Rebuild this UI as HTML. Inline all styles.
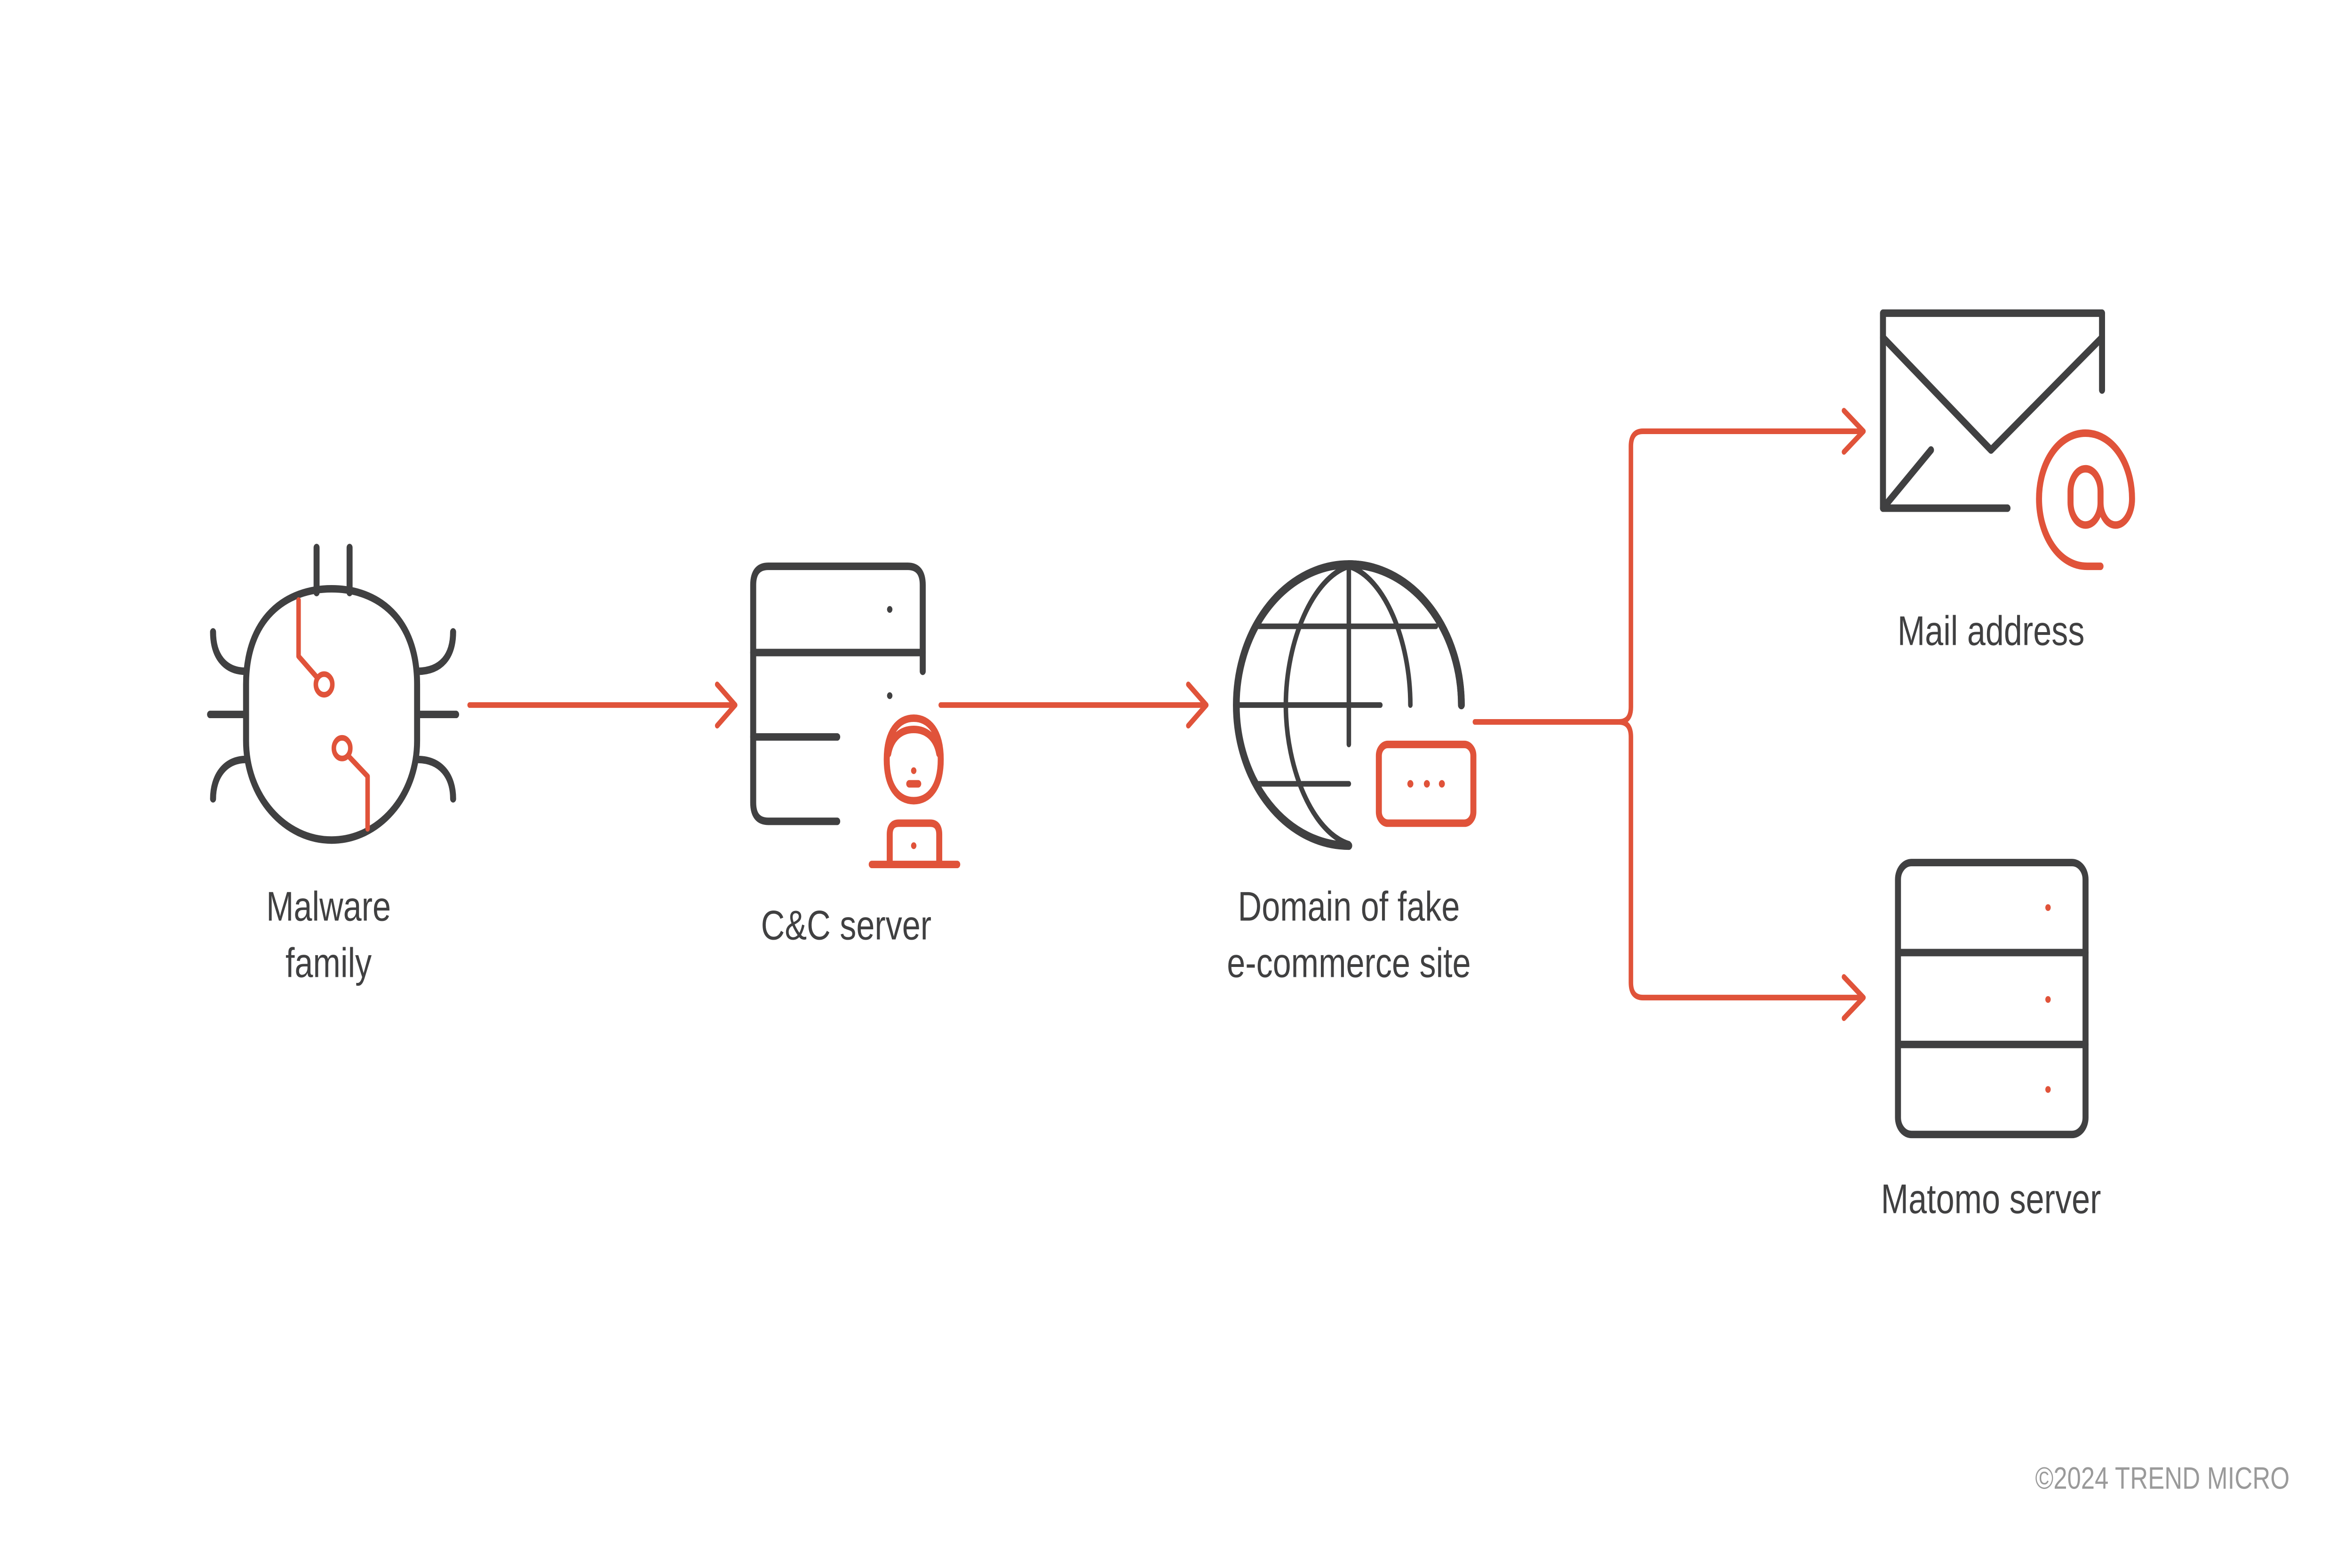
<!DOCTYPE html>
<html><head><meta charset="utf-8"><style>
html,body{margin:0;padding:0;background:#fff;width:100%;height:100%;overflow:hidden;}
svg{display:block;width:100vw;height:100vh;}
text{font-family:"Liberation Sans",sans-serif;}
</style></head><body>
<svg viewBox="0 0 1567.6 836.2" preserveAspectRatio="none" xmlns="http://www.w3.org/2000/svg">
<rect width="1568" height="837" fill="#fff"/>
<g fill="none" stroke-linecap="round" stroke-linejoin="round">
<!-- Bug -->
<g stroke="#404041" stroke-width="4">
<path d="M164,365 C164,330 190,314 221,314 C252,314 278,330 278,365 L278,395 C278,425 252,448 221,448 C190,448 164,425 164,395 Z"/>
<line x1="211" y1="292" x2="211" y2="316"/><line x1="233" y1="292" x2="233" y2="316"/>
<path d="M142,337 C142,350 150,358 164,358"/><path d="M302,337 C302,350 294,358 278,358"/>
<line x1="140" y1="381" x2="164" y2="381"/><line x1="280" y1="381" x2="304" y2="381"/>
<path d="M142,426 C142,414 150,405 164,405"/><path d="M302,426 C302,414 294,405 278,405"/>
</g>
<g stroke="#e0533a" stroke-width="3">
<polyline points="199,320 199,350 211,361"/><circle cx="216" cy="365" r="5.5"/>
<circle cx="228" cy="399" r="5.5"/><polyline points="232,403 245,414 245,442"/>
</g>
<!-- C&C server -->
<g stroke="#404041" stroke-width="4">
<path d="M558,438 L512,438 Q502,438 502,428 L502,312 Q502,302 512,302 L605,302 Q615,302 615,312 L615,358"/>
<line x1="502" y1="348" x2="615" y2="348"/>
<line x1="502" y1="393" x2="558" y2="393"/>
</g>
<circle cx="593" cy="325" r="1.8" fill="#404041"/><circle cx="593" cy="371" r="1.8" fill="#404041"/>
<g stroke="#e0533a" stroke-width="4">
<path d="M591,405 C591,390 599,383 609,383 C619,383 627,390 627,405 C627,420 619,427 609,427 C599,427 591,420 591,405 Z"/>
<path d="M592,402 C594,393 601,389 609,389 C617,389 624,393 626,402"/>
<line x1="606" y1="418" x2="612" y2="418"/>
<path d="M593,460 L593,445 Q593,439 599,439 L620,439 Q626,439 626,445 L626,460"/>
<line x1="581" y1="461" x2="638" y2="461"/>
</g>
<circle cx="609" cy="411" r="1.8" fill="#e0533a"/><circle cx="609" cy="451" r="1.8" fill="#e0533a"/>
<!-- arrows -->
<g stroke="#e0533a" stroke-width="3">
<line x1="313" y1="376" x2="489" y2="376"/><polyline points="478,365 490,376 478,387"/>
<line x1="627" y1="376" x2="803" y2="376"/><polyline points="792,365 804,376 792,387"/>
</g>
<!-- Globe -->
<g stroke="#404041" stroke-width="4.5">
<path d="M974,376 A75,75 0 1 0 899,451"/>
<path d="M974,376 A75,75 0 0 0 899,301"/>
</g>
<g stroke="#404041" stroke-width="3">
<path d="M899,302 C875,308 857,342 857,376 C857,410 875,444 899,450"/>
<path d="M899,302 C923,308 940,342 940,376"/>
<line x1="899" y1="302" x2="899" y2="397"/>
<line x1="826" y1="376" x2="920" y2="376"/>
<line x1="839" y1="334" x2="957" y2="334"/>
<line x1="839" y1="418" x2="899" y2="418"/>
</g>
<rect x="919" y="397" width="63" height="42" rx="6" stroke="#e0533a" stroke-width="4"/>
<g fill="#e0533a" stroke="none"><circle cx="940" cy="418" r="2"/><circle cx="951" cy="418" r="2"/><circle cx="961" cy="418" r="2"/></g>
<!-- branch -->
<g stroke="#e0533a" stroke-width="3">
<path d="M983,385 L1079,385 Q1087,385 1087,377 L1087,238 Q1087,230 1095,230 L1241,230"/>
<path d="M1079,385 Q1087,385 1087,393 L1087,524 Q1087,532 1095,532 L1241,532"/>
<polyline points="1229,219 1242,230 1229,241"/>
<polyline points="1229,521 1242,532 1229,543"/>
</g>
<!-- Envelope -->
<g stroke="#404041" stroke-width="4">
<polyline points="1338,271 1255,271 1255,167 1401,167 1401,208"/>
<polyline points="1255,180 1327,240 1401,180"/>
<line x1="1255" y1="271" x2="1287" y2="240"/>
</g>
<path d="M1400,302 L1391,302 C1372,302 1359,285 1359,266 C1359,247 1372,231 1390,231 C1408,231 1421,247 1421,266 C1421,274 1416,280 1410,280 C1404,280 1400,274 1400,268 C1400,274 1396,280 1390,280 C1384,280 1380,274 1380,268 L1380,262 C1380,256 1384,250 1390,250 C1396,250 1400,256 1400,262 L1400,268" stroke="#e0533a" stroke-width="4"/>
<!-- Matomo server -->
<g stroke="#404041" stroke-width="4">
<rect x="1265" y="460" width="125" height="145" rx="9"/>
<line x1="1265" y1="508" x2="1390" y2="508"/><line x1="1265" y1="557" x2="1390" y2="557"/>
</g>
<g fill="#e0533a" stroke="none"><circle cx="1365" cy="484" r="1.8"/><circle cx="1365" cy="533" r="1.8"/><circle cx="1365" cy="581" r="1.8"/></g>
</g>
<g fill="#404041" font-size="22" text-anchor="middle">
<text x="219" y="491">Malware</text><text x="219" y="521">family</text>
<text x="564" y="501">C&amp;C server</text>
<text x="899" y="491">Domain of fake</text><text x="899" y="521">e-commerce site</text>
<text x="1327" y="344">Mail address</text>
<text x="1327" y="647">Matomo server</text>
</g>
<text x="1526" y="794" fill="#9a9a9a" font-size="16.5" text-anchor="end">©2024 TREND MICRO</text>
</svg>
</body></html>
